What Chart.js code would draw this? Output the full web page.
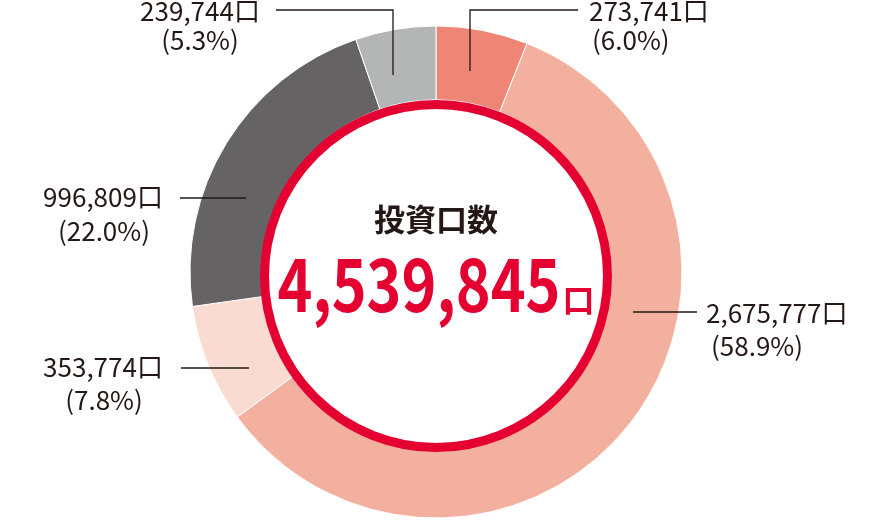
<!DOCTYPE html>
<html>
<head>
<meta charset="utf-8">
<script src="https://cdn.jsdelivr.net/npm/chart.js@4"></script>
<style>
html,body{margin:0;padding:0;background:#fff;}
#wrap{width:872px;height:520px;}
</style>
</head>
<body>
<div id="wrap"><canvas id="c" width="872" height="520"></canvas></div>
<script>
// ---- data ----
const categories = ['A', 'B', 'C', 'D', 'E'];
const units = [273741, 2675777, 353774, 996809, 239744];
const unitLabels = ['273,741口', '2,675,777口', '353,774口', '996,809口', '239,744口'];
const pctLabels = ['(6.0%)', '(58.9%)', '(7.8%)', '(22.0%)', '(5.3%)'];
const centerTitle = '投資口数';
const totalLabel = '4,539,845';
const unitSuffix = '口';

// ---- styles / layout ----
const colors = ['#ef8675', '#f4b09e', '#fadbd1', '#656364', '#b4b5b5'];
const RED = '#e50032';
const INK = '#231815';
const FONT = '"Noto Sans CJK JP", "Noto Sans", sans-serif';
// label layout relative to doughnut centre: text anchor x, baselines, alignment, leader polyline
const labelLayout = [
  {x: 153, x2: 156, b1: -251, b2: -222, align: 'left',   line: [[142, -262], [34, -262], [34, -201]]},
  {x: 270, x2: 275, b1: 51,   b2: 84,   align: 'left',   line: [[197, 40], [261, 40]]},
  {x: -333, x2: -332, b1: 105, b2: 138, align: 'center', line: [[-255, 96], [-187, 96]]},
  {x: -333, x2: -332, b1: -65, b2: -31, align: 'center', line: [[-256, -74], [-190, -74]]},
  {x: -236, x2: -236, b1: -251, b2: -222, align: 'center', line: [[-160, -262], [-43, -262], [-43, -197]]}
];

const overlay = {
  id: 'overlay',
  afterDatasetsDraw(chart) {
    const ctx = chart.ctx;
    const arc = chart.getDatasetMeta(0).data[0];
    const cx = arc.x, cy = arc.y;
    ctx.save();
    // red ring
    ctx.beginPath();
    ctx.arc(cx, cy + 4, 171.5, 0, Math.PI * 2);
    ctx.fillStyle = '#fff';
    ctx.fill();
    ctx.lineWidth = 9;
    ctx.strokeStyle = RED;
    ctx.stroke();

    // centre title
    ctx.fillStyle = INK;
    ctx.font = '700 31px ' + FONT;
    ctx.textAlign = 'center';
    ctx.textBaseline = 'alphabetic';
    ctx.fillText(centerTitle, cx, cy - 41);

    // total
    ctx.fillStyle = RED;
    ctx.font = '700 74px ' + FONT;
    ctx.textAlign = 'left';
    const targetW = 283;
    const w1 = ctx.measureText(totalLabel).width;
    ctx.font = '700 32px ' + FONT;
    const w2 = ctx.measureText(unitSuffix).width;
    const gap = 2;
    const total = targetW + gap + w2;
    const x0 = cx - total / 2;
    ctx.save();
    ctx.translate(x0, cy + 40);
    ctx.scale(targetW / w1, 1);
    ctx.font = '700 74px ' + FONT;
    ctx.fillText(totalLabel, 0, 0);
    ctx.restore();
    ctx.font = '700 32px ' + FONT;
    ctx.fillText(unitSuffix, x0 + targetW + gap, cy + 40);

    // labels
    ctx.fillStyle = INK;
    ctx.strokeStyle = INK;
    ctx.lineWidth = 1.3;
    ctx.font = '400 26px ' + FONT;
    labelLayout.forEach((L, i) => {
      ctx.beginPath();
      L.line.forEach((p, j) => {
        if (j === 0) ctx.moveTo(cx + p[0], cy + p[1]);
        else ctx.lineTo(cx + p[0], cy + p[1]);
      });
      ctx.stroke();
      ctx.textAlign = L.align;
      ctx.fillText(unitLabels[i], cx + L.x, cy + L.b1);
      ctx.fillText(pctLabels[i], cx + L.x2, cy + L.b2);
    });
    ctx.restore();
  }
};

new Chart(document.getElementById('c'), {
  type: 'doughnut',
  data: {
    labels: categories,
    datasets: [{
      data: units,
      backgroundColor: colors,
      borderColor: '#ffffff',
      borderWidth: 1,
      hoverOffset: 0
    }]
  },
  options: {
    responsive: false,
    animation: false,
    radius: 246,
    cutout: '70%',
    layout: {padding: {top: 24, bottom: 0}},
    plugins: {legend: {display: false}, tooltip: {enabled: false}},
    events: []
  },
  plugins: [overlay]
});
</script>
</body>
</html>
